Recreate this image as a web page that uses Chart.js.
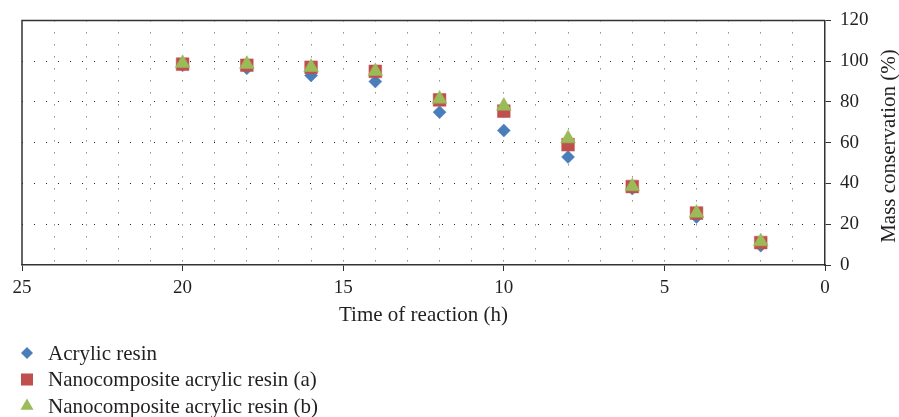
<!DOCTYPE html>
<html>
<head>
<meta charset="utf-8">
<script src="https://cdn.jsdelivr.net/npm/chart.js@4"></script>
<style>
  html, body { margin: 0; padding: 0; background: #fff; }
</style>
</head>
<body>
<canvas id="chart" width="899" height="417"></canvas>
<script>
// values
const hours = [20, 18, 16, 14, 12, 10, 8, 6, 4, 2];
const acrylic = [98, 96.5, 93, 90, 75, 66, 53, 37.5, 23.5, 9.5];
const nanoA = [98.5, 98, 97, 95, 81, 75.5, 59, 38.5, 25.5, 11];
const nanoB = [99, 98.5, 97, 95, 81.5, 78, 62, 38.5, 25.5, 11.5];
const seriesNames = ['Acrylic resin', 'Nanocomposite acrylic resin (a)', 'Nanocomposite acrylic resin (b)'];

const FONT = '"Liberation Serif", "Times New Roman", serif';
const TEXT = '#231f20';

function toPoints(ys) {
    return hours.map((h, i) => ({ x: h, y: ys[i] }));
}

// frame on top and left, rotated y title, and the vertical legend
const extras = {
    id: 'extras',
    afterDraw(chart) {
        const ctx = chart.ctx;
        const a = chart.chartArea;
        ctx.save();
        ctx.strokeStyle = '#333';
        ctx.lineWidth = 1.5;
        ctx.beginPath();
        ctx.moveTo(a.left, a.bottom);
        ctx.lineTo(a.left, a.top);
        ctx.lineTo(a.right, a.top);
        ctx.stroke();

        // y axis title, reads bottom to top
        ctx.fillStyle = TEXT;
        ctx.font = '21px ' + FONT;
        ctx.textAlign = 'center';
        ctx.textBaseline = 'middle';
        ctx.translate(889, 146);
        ctx.rotate(-Math.PI / 2);
        ctx.fillText('Mass conservation (%)', 0, 0);
        ctx.restore();

        // legend
        ctx.save();
        ctx.font = '21px ' + FONT;
        ctx.textBaseline = 'middle';
        ctx.textAlign = 'left';
        chart.data.datasets.forEach((ds, i) => {
            const y = 353 + i * 26.5;
            ctx.fillStyle = ds.backgroundColor;
            ctx.strokeStyle = ds.backgroundColor;
            Chart.helpers.drawPoint(ctx, {
                pointStyle: ds.pointStyle,
                radius: ds.legendRadius,
                borderWidth: 0,
                rotation: 0
            }, 27, y);
            ctx.fillStyle = TEXT;
            ctx.fillText(ds.label, 48, y + 1);
        });
        ctx.restore();
    }
};

new Chart(document.getElementById('chart'), {
    type: 'scatter',
    data: {
        datasets: [
            {
                label: seriesNames[0],
                data: toPoints(acrylic),
                pointStyle: 'rectRot',
                pointRadius: 6.5,
                legendRadius: 6,
                backgroundColor: '#4a7ebb',
                borderColor: 'rgba(74,126,187,0.5)',
                borderWidth: 1,
                order: 3
            },
            {
                label: seriesNames[1],
                data: toPoints(nanoA),
                pointStyle: 'rect',
                pointRadius: 9,
                legendRadius: 8.5,
                backgroundColor: '#c0504d',
                borderColor: 'rgba(192,80,77,0.5)',
                borderWidth: 1,
                order: 2
            },
            {
                label: seriesNames[2],
                data: toPoints(nanoB),
                pointStyle: 'triangle',
                pointRadius: 8.5,
                legendRadius: 7.5,
                backgroundColor: '#9bbb59',
                borderColor: 'rgba(155,187,89,0.5)',
                borderWidth: 1,
                order: 1
            }
        ]
    },
    options: {
        responsive: false,
        animation: false,
        devicePixelRatio: 1,
        layout: {
            padding: { top: 20, left: 22, right: 0, bottom: 87 }
        },
        plugins: {
            legend: { display: false },
            tooltip: { enabled: false }
        },
        scales: {
            x: {
                type: 'linear',
                reverse: true,
                min: 0,
                max: 25,
                afterFit: (scale) => { scale.height = 65; },
                ticks: {
                    stepSize: 1,
                    autoSkip: false,
                    maxRotation: 0,
                    padding: 6,
                    color: TEXT,
                    font: { family: FONT, size: 19 },
                    callback: (v) => (v % 5 === 0 ? String(v) : '')
                },
                grid: {
                    color: (c) => (c.tick && c.tick.value % 25 === 0 ? 'rgba(0,0,0,0)' : '#555'),
                    tickBorderDash: [],
                    tickLength: 6,
                    tickColor: (c) => (c.tick && c.tick.value % 5 === 0 ? '#333' : 'rgba(0,0,0,0)')
                },
                border: { color: '#333', width: 1.5, dash: [1, 11] },
                title: {
                    display: true,
                    text: 'Time of reaction (h)',
                    color: TEXT,
                    font: { family: FONT, size: 21 },
                    padding: { top: 0, bottom: 2 }
                }
            },
            y: {
                position: 'right',
                min: 0,
                max: 120,
                afterFit: (scale) => { scale.width = 74; },
                ticks: {
                    stepSize: 20,
                    padding: 9,
                    color: TEXT,
                    font: { family: FONT, size: 19 }
                },
                grid: {
                    color: (c) => (c.tick && (c.tick.value === 0 || c.tick.value === 120) ? 'rgba(0,0,0,0)' : '#222'),
                    tickBorderDash: [],
                    tickLength: 6,
                    tickColor: '#333'
                },
                border: { color: '#333', width: 1.5, dash: [1, 11] }
            }
        }
    },
    plugins: [extras]
});
</script>
</body>
</html>
